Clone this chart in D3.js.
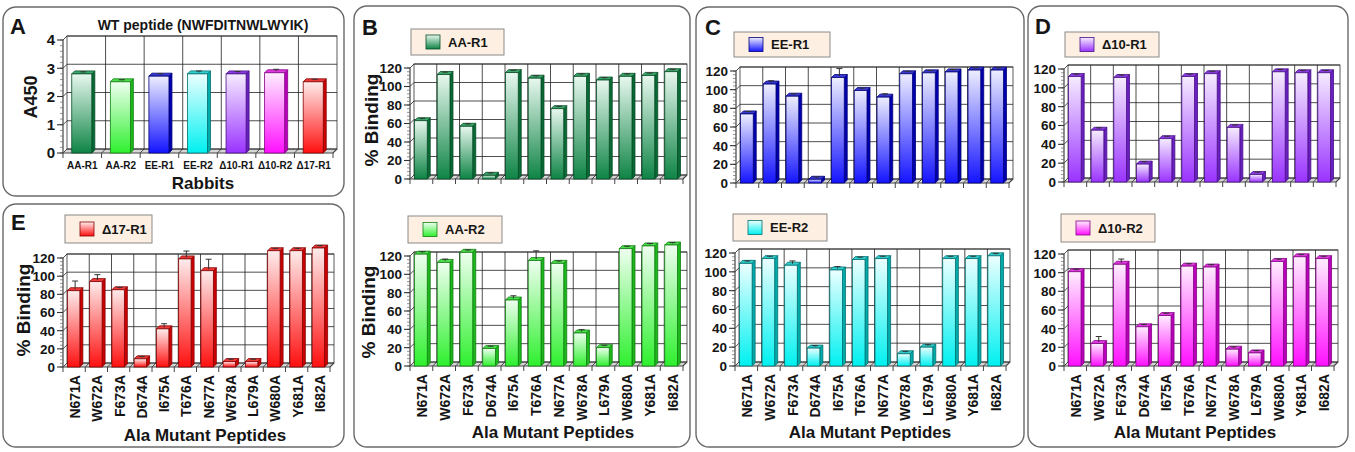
<!DOCTYPE html>
<html>
<head>
<meta charset="utf-8">
<script src="https://cdn.jsdelivr.net/npm/d3@7"></script>
<style>
body { margin: 0; background: #fff; }
svg { display: block; }
text { font-family: "Liberation Sans", Arial, sans-serif; font-weight: bold; fill: #151515; }
</style>
</head>
<body>
<svg id="fig" width="1355" height="452"></svg>
<script>
// ---- data ----
let rabbits = ["AA-R1", "AA-R2", "EE-R1", "EE-R2", "\u039410-R1", "\u039410-R2", "\u039417-R1"];
let wtA450 = [2.80, 2.52, 2.72, 2.80, 2.80, 2.84, 2.52];
let wtErr = [0.02, 0.02, 0.04, 0.05, 0.03, 0.07, 0.04];

let mutants = ["N671A", "W672A", "F673A", "D674A", "I675A", "T676A", "N677A", "W678A", "L679A", "W680A", "Y681A", "I682A"];
let aaR1 = [63, 113, 57, 4, 115, 109, 76, 111, 107, 111, 112, 116];
let aaR1Err = [1, 1, 1, 1, 1, 1, 1, 1, 1, 1, 1, 1];
let aaR2 = [122, 113, 124, 19, 72, 115, 112, 36, 20, 128, 131, 132];
let aaR2Err = [1, 2, 1, 1, 3, 9, 1, 2, 1, 1, 1, 1];
let eeR1 = [74, 106, 93, 4, 113, 99, 92, 117, 118, 119, 121, 121];
let eeR1Err = [1, 2, 1, 1, 8, 1, 2, 1, 1, 1, 1, 1];
let eeR2 = [109, 114, 107, 19, 102, 113, 114, 13, 20, 114, 114, 117];
let eeR2Err = [1, 1, 3, 1, 2, 1, 1, 1, 1, 1, 1, 1];
let d10R1 = [112, 55, 111, 19, 46, 112, 115, 58, 8, 117, 116, 116];
let d10R1Err = [1, 1, 1, 1, 1, 1, 1, 1, 1, 1, 1, 1];
let d10R2 = [101, 24, 109, 42, 54, 107, 106, 18, 14, 112, 117, 115];
let d10R2Err = [1, 6, 4, 1, 1, 1, 1, 1, 1, 1, 1, 1];
let d17R1 = [84, 94, 85, 9, 42, 119, 106, 6, 6, 128, 128, 131];
let d17R1Err = [9, 6, 1, 1, 4, 7, 11, 1, 1, 1, 1, 1];

// bar colours: light top of gradient, saturated bottom, top face, side face, outline
let palette = {
    "AA-R1": { light: "#e8f8ef", base: "#0e8445", top: "#3aa86a", side: "#0a6a36", line: "#064d26" },
    "AA-R2": { light: "#effff0", base: "#2ef02e", top: "#4be04b", side: "#1cb81c", line: "#128012" },
    "EE-R1": { light: "#eeeeff", base: "#1414ff", top: "#3a3ad0", side: "#0000b0", line: "#00007a" },
    "EE-R2": { light: "#ecffff", base: "#00f0f0", top: "#30cfcf", side: "#00acac", line: "#007070" },
    "\u039410-R1": { light: "#f6ecff", base: "#9a33ff", top: "#8a3ae0", side: "#6a1fc0", line: "#481088" },
    "\u039410-R2": { light: "#ffeeff", base: "#ff10ff", top: "#e03ae0", side: "#bb00bb", line: "#860086" },
    "\u039417-R1": { light: "#ffecec", base: "#ff1010", top: "#f03a3a", side: "#cc0000", line: "#860000" }
};

let svg = d3.select('#fig');
let defs = svg.append('defs');
Object.keys(palette).forEach(function (k, i) {
    let c = palette[k];
    let gr = defs.append('linearGradient')
        .attr('id', 'grad' + i)
        .attr('x1', 0).attr('y1', 0).attr('x2', 0).attr('y2', 1);
    gr.append('stop').attr('offset', '0%').attr('stop-color', c.light);
    gr.append('stop').attr('offset', '100%').attr('stop-color', c.base);
    c.grad = 'url(#grad' + i + ')';
});

// panel frames
let frames = [
    [3, 7, 341, 189], [3, 204, 341, 243],
    [354, 6, 336, 441], [696, 7, 328, 440], [1028, 6, 320, 441]
];
svg.selectAll('rect.frame')
    .data(frames)
    .enter()
    .append('rect')
    .attr('class', 'frame')
    .attr('x', function (d) { return d[0]; })
    .attr('y', function (d) { return d[1]; })
    .attr('width', function (d) { return d[2]; })
    .attr('height', function (d) { return d[3]; })
    .attr('rx', 13)
    .attr('fill', 'none')
    .attr('stroke', '#6a6a6a')
    .attr('stroke-width', 1.4);

function drawPlot(cfg) {
    let g = svg.append('g');
    let dp = 4, bd = 3;
    let xScale = d3.scaleBand().domain(cfg.cats).range([cfg.x0, cfg.x1]);
    let yScale = d3.scaleLinear().domain([0, cfg.max]).range([cfg.y0, cfg.yTop]);
    let major = d3.range(0, cfg.max + 1e-9, cfg.step);
    let minor = d3.range(0, cfg.max + 1e-9, cfg.step / cfg.minor);
    let bounds = cfg.cats.map(function (c) { return xScale(c); }).concat([cfg.x1]);

    // floor strip
    g.append('path')
        .attr('d', 'M' + cfg.x0 + ',' + cfg.y0 + 'L' + (cfg.x0 + dp) + ',' + (cfg.y0 - dp) +
            'H' + (cfg.x1 + dp) + 'L' + cfg.x1 + ',' + cfg.y0 + 'Z')
        .attr('fill', '#d6d6d6');
    // back wall
    g.append('rect')
        .attr('x', cfg.x0 + dp).attr('y', yScale(cfg.max) - dp)
        .attr('width', cfg.x1 - cfg.x0).attr('height', cfg.y0 - yScale(cfg.max))
        .attr('fill', '#fff').attr('stroke', '#333').attr('stroke-width', 0.8);
    // horizontal grid
    g.selectAll('path.hg')
        .data(major)
        .enter()
        .append('path')
        .attr('d', function (t) {
            return 'M' + cfg.x0 + ',' + yScale(t) + 'L' + (cfg.x0 + dp) + ',' + (yScale(t) - dp) + 'H' + (cfg.x1 + dp);
        })
        .attr('fill', 'none').attr('stroke', '#222').attr('stroke-width', 0.8);
    // vertical grid
    g.selectAll('path.vg')
        .data(bounds.slice(1, -1))
        .enter()
        .append('path')
        .attr('d', function (b) {
            return 'M' + (b + dp) + ',' + (yScale(cfg.max) - dp) + 'V' + (cfg.y0 - dp) + 'L' + b + ',' + cfg.y0;
        })
        .attr('fill', 'none').attr('stroke', '#222').attr('stroke-width', 0.8);
    // axes
    g.append('path')
        .attr('d', 'M' + cfg.x0 + ',' + yScale(cfg.max) + 'V' + cfg.y0 + 'H' + cfg.x1 + 'L' + (cfg.x1 + dp) + ',' + (cfg.y0 - dp))
        .attr('fill', 'none').attr('stroke', '#444').attr('stroke-width', 1.2);
    g.selectAll('line.xt')
        .data(bounds)
        .enter()
        .append('line')
        .attr('x1', function (b) { return b; }).attr('x2', function (b) { return b; })
        .attr('y1', cfg.y0).attr('y2', cfg.y0 + 5)
        .attr('stroke', '#444').attr('stroke-width', 1);
    g.selectAll('line.ym')
        .data(minor)
        .enter()
        .append('line')
        .attr('x1', cfg.x0 - 3).attr('x2', cfg.x0)
        .attr('y1', function (t) { return yScale(t); }).attr('y2', function (t) { return yScale(t); })
        .attr('stroke', '#666').attr('stroke-width', 0.7);
    g.selectAll('line.yt')
        .data(major)
        .enter()
        .append('line')
        .attr('x1', cfg.x0 - 6).attr('x2', cfg.x0)
        .attr('y1', function (t) { return yScale(t); }).attr('y2', function (t) { return yScale(t); })
        .attr('stroke', '#333').attr('stroke-width', 1.1);
    g.selectAll('text.yl')
        .data(major)
        .enter()
        .append('text')
        .attr('x', cfg.x0 - 8)
        .attr('y', function (t) { return yScale(t); })
        .attr('dy', '0.36em')
        .attr('text-anchor', 'end')
        .attr('font-size', cfg.yFont)
        .text(function (t) { return t; });

    // bars
    let bw = xScale.bandwidth() * cfg.barFrac;
    cfg.values.forEach(function (v, i) {
        let c = palette[cfg.colors[i]];
        let cx = xScale(cfg.cats[i]) + xScale.bandwidth() / 2;
        let fx = cx - bw / 2 - bd / 2 + 1;
        let fy = yScale(v);
        g.append('path')
            .attr('d', 'M' + (fx + bw) + ',' + fy + 'L' + (fx + bw + bd) + ',' + (fy - bd) +
                'V' + (cfg.y0 - bd) + 'L' + (fx + bw) + ',' + cfg.y0 + 'Z')
            .attr('fill', c.side).attr('stroke', c.line).attr('stroke-width', 0.8);
        g.append('path')
            .attr('d', 'M' + fx + ',' + fy + 'L' + (fx + bd) + ',' + (fy - bd) +
                'H' + (fx + bw + bd) + 'L' + (fx + bw) + ',' + fy + 'Z')
            .attr('fill', c.top).attr('stroke', c.line).attr('stroke-width', 0.8);
        g.append('rect')
            .attr('x', fx).attr('y', fy)
            .attr('width', bw).attr('height', cfg.y0 - fy)
            .attr('fill', c.grad).attr('stroke', c.line).attr('stroke-width', 0.8);
        let e = cfg.errs[i];
        let ex = fx + bw / 2 + bd / 2;
        let ey = yScale(v + e) - bd / 2;
        g.append('path')
            .attr('d', 'M' + ex + ',' + (fy - bd / 2) + 'V' + ey + 'M' + (ex - 3) + ',' + ey + 'H' + (ex + 3))
            .attr('fill', 'none').attr('stroke', '#333').attr('stroke-width', 1);
    });

    if (cfg.xLabels === 'rot') {
        g.selectAll('text.xl')
            .data(cfg.cats)
            .enter()
            .append('text')
            .attr('transform', function (c) {
                return 'translate(' + (xScale(c) + xScale.bandwidth() / 2 + 1) + ',' + (cfg.y0 + 8) + ') rotate(-90)';
            })
            .attr('dy', '0.36em')
            .attr('text-anchor', 'end')
            .attr('font-size', 14)
            .text(function (c) { return c; });
    } else if (cfg.xLabels === 'flat') {
        g.selectAll('text.xl')
            .data(cfg.cats)
            .enter()
            .append('text')
            .attr('x', function (c) { return xScale(c) + xScale.bandwidth() / 2; })
            .attr('y', cfg.y0 + 16)
            .attr('text-anchor', 'middle')
            .attr('font-size', 10)
            .text(function (c) { return c; });
    }
}

function drawLegend(x, y, w, h, name) {
    let c = palette[name];
    let g = svg.append('g');
    g.append('rect').attr('x', x).attr('y', y).attr('width', w).attr('height', h)
        .attr('fill', '#fdefe1').attr('stroke', '#8a8a8a').attr('stroke-width', 1);
    g.append('rect').attr('x', x + 15).attr('y', y + h / 2 - 7).attr('width', 14).attr('height', 14)
        .attr('fill', c.grad).attr('stroke', c.line).attr('stroke-width', 0.8);
    g.append('text').attr('x', x + 37).attr('y', y + h / 2).attr('dy', '0.36em')
        .attr('font-size', 13).text(name);
}

function label(x, y, txt, size, rot) {
    let t = svg.append('text')
        .attr('font-size', size)
        .attr('text-anchor', 'middle')
        .text(txt);
    if (rot) {
        t.attr('transform', 'translate(' + x + ',' + y + ') rotate(-90)');
    } else {
        t.attr('x', x).attr('y', y);
    }
    return t;
}

// Panel A
drawPlot({ x0: 63, x1: 333, y0: 153, yTop: 40, max: 4, step: 1, minor: 5, cats: rabbits, values: wtA450,
    errs: wtErr, colors: rabbits, barFrac: 0.52, yFont: 15, xLabels: 'flat' });
label(203, 30, 'WT peptide (NWFDITNWLWYIK)', 14);
label(31, 97, 'A450', 18, true).attr('dy', '0.35em');
label(203, 189, 'Rabbits', 17);
svg.append('text').attr('x', 10).attr('y', 34).attr('font-size', 22).text('A');

// Panel E
drawPlot({ x0: 63, x1: 330, y0: 367, yTop: 258, max: 120, step: 20, minor: 5, cats: mutants, values: d17R1,
    errs: d17R1Err, colors: mutants.map(function () { return "\u039417-R1"; }), barFrac: 0.56, yFont: 13.5, xLabels: 'rot' });
drawLegend(65, 215, 87, 28, "\u039417-R1");
label(23, 310, '% Binding', 19, true).attr('dy', '0.35em');
label(205, 441, 'Ala Mutant Peptides', 17);
svg.append('text').attr('x', 11).attr('y', 230).attr('font-size', 22).text('E');

// Panel B
drawPlot({ x0: 410, x1: 683, y0: 179, yTop: 68, max: 120, step: 20, minor: 5, cats: mutants, values: aaR1,
    errs: aaR1Err, colors: mutants.map(function () { return "AA-R1"; }), barFrac: 0.56, yFont: 13.5, xLabels: 'none' });
drawLegend(411, 29, 93, 26, "AA-R1");
drawPlot({ x0: 410, x1: 683, y0: 366, yTop: 256, max: 120, step: 20, minor: 5, cats: mutants, values: aaR2,
    errs: aaR2Err, colors: mutants.map(function () { return "AA-R2"; }), barFrac: 0.56, yFont: 13.5, xLabels: 'rot' });
drawLegend(408, 216, 94, 27, "AA-R2");
label(371, 120, '% Binding', 19, true).attr('dy', '0.35em');
label(368, 312, '% Binding', 19, true).attr('dy', '0.35em');
label(553, 438, 'Ala Mutant Peptides', 17);
svg.append('text').attr('x', 362).attr('y', 35).attr('font-size', 22).text('B');

// Panel C
drawPlot({ x0: 736, x1: 1009, y0: 183, yTop: 71, max: 120, step: 20, minor: 5, cats: mutants, values: eeR1,
    errs: eeR1Err, colors: mutants.map(function () { return "EE-R1"; }), barFrac: 0.56, yFont: 13.5, xLabels: 'none' });
drawLegend(734, 32, 96, 25, "EE-R1");
drawPlot({ x0: 735, x1: 1006, y0: 366, yTop: 253, max: 120, step: 20, minor: 5, cats: mutants, values: eeR2,
    errs: eeR2Err, colors: mutants.map(function () { return "EE-R2"; }), barFrac: 0.56, yFont: 13.5, xLabels: 'rot' });
drawLegend(733, 214, 94, 27, "EE-R2");
label(870, 438, 'Ala Mutant Peptides', 17);
svg.append('text').attr('x', 705).attr('y', 35).attr('font-size', 22).text('C');

// Panel D
drawPlot({ x0: 1064, x1: 1336, y0: 182, yTop: 69, max: 120, step: 20, minor: 5, cats: mutants, values: d10R1,
    errs: d10R1Err, colors: mutants.map(function () { return "\u039410-R1"; }), barFrac: 0.56, yFont: 13.5, xLabels: 'none' });
drawLegend(1065, 32, 94, 25, "\u039410-R1");
drawPlot({ x0: 1064, x1: 1334, y0: 366, yTop: 254, max: 120, step: 20, minor: 5, cats: mutants, values: d10R2,
    errs: d10R2Err, colors: mutants.map(function () { return "\u039410-R2"; }), barFrac: 0.56, yFont: 13.5, xLabels: 'rot' });
drawLegend(1061, 214, 94, 28, "\u039410-R2");
label(1195, 438, 'Ala Mutant Peptides', 17);
svg.append('text').attr('x', 1035).attr('y', 34).attr('font-size', 22).text('D');
</script>
</body>
</html>
